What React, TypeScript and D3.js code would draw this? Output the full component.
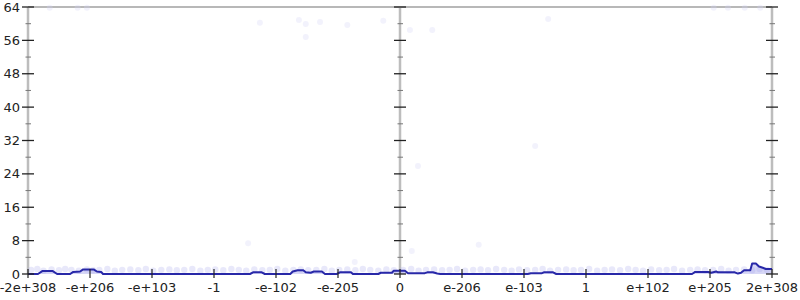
import React from "react";
import * as d3 from "d3";

const xTickLabels = ["-2e+308", "-e+206", "-e+103", "-1", "-e-102", "-e-205", "0", "e-206", "e-103", "1", "e+102", "e+205", "2e+308"];
const xTickPos = [-6, -5, -4, -3, -2, -1, 0, 1, 2, 3, 4, 5, 6];
const yMajor = [0, 8, 16, 24, 32, 40, 48, 56, 64];
const yMinor = [4, 12, 20, 28, 36, 44, 52, 60];

// histogram outline: position (tick units), count
const histX = [-6, -5.84, -5.77, -5.6, -5.53, -5.32, -5.27, -5.16, -5.11, -4.94, -4.89, -4.82, -4.79, -2.42, -2.37, -2.23, -2.18, -1.77, -1.73, -1.65, -1.56, -1.52, -1.44, -1.39, -1.26, -1.21, -1.02, -0.97, -0.79, -0.76, -0.35, -0.31, -0.13, -0.1, 0.08, 0.13, 0.4, 0.44, 0.53, 0.6, 0.65, 2.06, 2.11, 2.29, 2.32, 2.47, 2.52, 4.71, 4.76, 4.97, 5.02, 5.1, 5.13, 5.4, 5.45, 5.5, 5.55, 5.65, 5.68, 5.74, 5.79, 5.85, 5.9, 6];
const histY = [0, 0, 0.7, 0.7, 0, 0, 0.5, 0.6, 1.1, 1.1, 0.6, 0.5, 0, 0, 0.4, 0.4, 0, 0, 0.6, 0.9, 0.9, 0.4, 0.3, 0.6, 0.6, 0, 0, 0.4, 0.4, 0, 0, 0.3, 0.3, 0.8, 0.8, 0.2, 0.2, 0.4, 0.4, 0.1, 0, 0, 0.2, 0.2, 0.4, 0.4, 0, 0, 0.5, 0.5, 0.3, 0.6, 0.4, 0.4, 0.1, 0.3, 0.9, 0.9, 2.5, 2.5, 1.8, 1.5, 1.2, 1.2];

// faint sample points near the baseline
const bandX = [-5.95, -5.85, -5.75, -5.62, -5.5, -5.4, -5.3, -5.18, -5.05, -4.95, -4.85, -4.72, -4.6, -4.48, -4.35, -4.22, -4.1, -3.98, -3.85, -3.72, -3.6, -3.48, -3.35, -3.22, -3.1, -2.98, -2.85, -2.72, -2.6, -2.48, -2.35, -2.22, -2.1, -1.98, -1.85, -1.72, -1.6, -1.48, -1.35, -1.22, -1.1, -0.98, -0.85, -0.72, -0.6, -0.48, -0.35, -0.22, -0.1, 0.05, 0.18, 0.3, 0.42, 0.55, 0.68, 0.8, 0.92, 1.05, 1.18, 1.3, 1.42, 1.55, 1.68, 1.8, 1.92, 2.05, 2.18, 2.3, 2.42, 2.55, 2.68, 2.8, 2.92, 3.05, 3.18, 3.3, 3.42, 3.55, 3.68, 3.8, 3.92, 4.05, 4.18, 4.3, 4.42, 4.55, 4.68, 4.8, 4.92, 5.05, 5.18, 5.3, 5.42, 5.55, 5.68, 5.8, 5.92];
const bandY = [1.0, 1.2, 0.8, 1.1, 0.9, 1.2, 1.0, 0.8, 1.1, 0.9, 1.0, 1.2, 0.8, 1.0, 1.1, 0.9, 1.2, 0.8, 1.0, 1.1, 0.9, 1.0, 1.2, 0.8, 1.0, 1.1, 0.9, 1.2, 1.0, 0.8, 1.1, 0.9, 1.0, 1.2, 0.8, 1.0, 1.1, 0.9, 1.0, 1.2, 0.8, 1.0, 1.1, 0.9, 1.2, 1.0, 0.8, 1.1, 0.9, 1.0, 1.2, 0.8, 1.0, 1.1, 0.9, 1.0, 1.2, 0.8, 1.0, 1.1, 0.9, 1.2, 1.0, 0.8, 1.1, 0.9, 1.0, 1.2, 0.8, 1.0, 1.1, 0.9, 1.0, 1.2, 0.8, 1.0, 1.1, 0.9, 1.2, 1.0, 0.8, 1.1, 0.9, 1.0, 1.2, 0.8, 1.0, 1.1, 0.9, 1.0, 1.2, 0.8, 1.0, 1.1, 0.9, 1.2, 1.0];
// scattered outlier samples
const outX = [-2.45, -0.73, 0.19, 1.27, 2.18, 0.29, 0.16, 0.52, 2.39, -2.26, -1.63, -1.52, -1.29, -0.85, -0.27, -1.52, -5.65, -5.2, -5.05, 5.06, 5.29, 5.56, 5.81];
const outY = [7.4, 2.9, 5.5, 7.0, 30.7, 25.9, 58.5, 58.5, 61.1, 60.2, 60.9, 59.9, 60.4, 59.7, 60.7, 56.8, 63.8, 63.8, 63.8, 63.8, 63.8, 63.8, 63.8];

const W = 800, H = 300;
const x = d3.scaleLinear().domain([-6, 6]).range([28, 772]);
const y = d3.scaleLinear().domain([0, 64]).range([274, 7]);

export default function App() {
  const pts = histX.map((v, i) => [v, histY[i]] as [number, number]);
  const area = d3.area<[number, number]>().x(d => x(d[0])).y0(y(0)).y1(d => y(d[1]))(pts) || "";
  const line = d3.line<[number, number]>().x(d => x(d[0])).y(d => y(d[1]))(pts) || "";
  const font = "DejaVu Sans, sans-serif";
  const axesX = [-6, 0, 6];
  return (
    <svg width={W} height={H} style={{ position: "absolute", left: 0, top: 0, background: "#fff" }}>
      <line x1={x(-6)} x2={x(6)} y1={y(64)} y2={y(64)} stroke="#b8b8b8" strokeWidth={2} />
      {axesX.map(a => (
        <line key={"ax" + a} x1={x(a)} x2={x(a)} y1={y(64)} y2={y(0)} stroke="#bdbdbd" strokeWidth={2.5} />
      ))}
      {bandX.map((v, i) => (
        <circle key={"b" + i} cx={x(v)} cy={y(bandY[i])} r={3.2} fill="#b4b4f0" opacity={0.3} />
      ))}
      {outX.map((v, i) => (
        <circle key={"o" + i} cx={x(v)} cy={y(outY[i])} r={3} fill="#d4d4f6" opacity={0.3} />
      ))}
      <path d={area} fill="#9a9ae8" opacity={0.4} />
      <path d={line} fill="none" stroke="#2828a8" strokeWidth={2} strokeLinejoin="round" />
      {axesX.map(a => (
        <g key={"yt" + a}>
          {yMajor.map(t => (
            <line key={"M" + t} x1={x(a) - 6} x2={x(a) + 6} y1={y(t)} y2={y(t)} stroke="#222" strokeWidth={1.3} />
          ))}
          {yMinor.map(t => (
            <line key={"m" + t} x1={x(a) - 2.5} x2={x(a) + 3} y1={y(t)} y2={y(t)} stroke="#777" strokeWidth={1} />
          ))}
        </g>
      ))}
      {yMajor.map(t => (
        <text key={"yl" + t} x={20} y={y(t)} dy="0.35em" textAnchor="end" fontFamily={font} fontSize={13} fill="#222">{t}</text>
      ))}
      {xTickPos.map((p, i) => (
        <g key={"xt" + i}>
          <line x1={x(p)} x2={x(p)} y1={y(0) - 5} y2={y(0) + 4} stroke="#222" strokeWidth={1.2} />
          <text x={x(p)} y={292} textAnchor="middle" fontFamily={font} fontSize={13} fill="#222">{xTickLabels[i]}</text>
        </g>
      ))}
    </svg>
  );
}
